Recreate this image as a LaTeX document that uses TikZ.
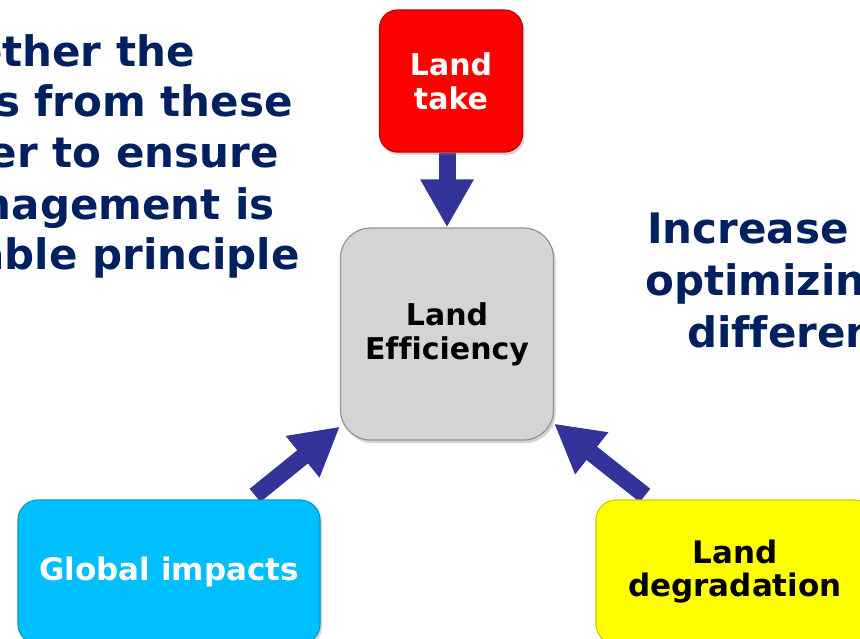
\documentclass[tikz,border=0pt]{standalone}
\usepackage{fontspec}
\setmainfont[Ligatures=NoCommon]{DejaVu Sans}
\usetikzlibrary{arrows.meta,shadows}
\definecolor{navytext}{HTML}{002060}
\definecolor{arrowblue}{HTML}{333399}
\definecolor{takered}{HTML}{FF0000}
\definecolor{effgray}{HTML}{D4D4D4}
\definecolor{globcyan}{HTML}{00BFFF}
\definecolor{degyellow}{HTML}{FFFF00}
\pgfdeclarelayer{background}
\pgfsetlayers{background,main}
\tikzset{
  boxnode/.style={rounded corners=20pt, align=center, inner sep=0pt,
    font=\bfseries\fontsize{30}{34}\selectfont,
    drop shadow={shadow xshift=2pt, shadow yshift=-3pt, opacity=0.35}},
  blockarrow/.style={draw=arrowblue, line width=17pt,
    -{Triangle[length=48pt, width=50pt]}},
  bigtext/.style={font=\bfseries\fontsize{42}{52}\selectfont, text=navytext, inner sep=0pt}
}
\begin{document}
\begin{tikzpicture}[x=1pt,y=-1pt]
\useasboundingbox (0,0) rectangle (860,639);
% boxes
\node[boxnode, fill=takered, draw=takered!75!black, line width=1.2pt, text=white,
  minimum width=143pt, minimum height=142pt, rounded corners=18pt] (take) at (451,81) {Land\\take};
\node[boxnode, fill=effgray, draw=effgray!70!black, line width=1.2pt, text=black,
  minimum width=213pt, minimum height=212pt, rounded corners=30pt] (eff) at (447,334) {Land\\Efficiency};
\node[boxnode, fill=globcyan, draw=globcyan!80!black, line width=1.2pt, text=white,
  minimum width=302pt, minimum height=144pt, font=\bfseries\fontsize{31}{34}\selectfont] (gi) at (169,572) {Global impacts};
\node[boxnode, fill=degyellow, draw=degyellow!80!black, line width=1.2pt, text=black,
  minimum width=278pt, minimum height=144pt, font=\bfseries\fontsize{31}{33}\selectfont] (ld) at (735,572) {Land\\degradation};
% arrows
\begin{pgfonlayer}{background}
\draw[blockarrow] (eff.north |- take.south) -- (eff.north);
\draw[blockarrow] ([xshift=86pt,yshift=4pt]gi.north) -- ([yshift=14pt]eff.south west);
\draw[blockarrow] ([xshift=-90pt,yshift=4pt]ld.north) -- ([yshift=17pt]eff.south east);
\end{pgfonlayer}
% left text
\node[bigtext, anchor=base east] (l1) at (195,67) {ether the};
\node[bigtext, anchor=base east] (l2) at (293,117) {s from these};
\node[bigtext, anchor=base east] (l3) at (279,168) {er to ensure};
\node[bigtext, anchor=base east] (l4) at (275,220) {nagement is};
\node[bigtext, anchor=base east] (l5) at (300,270) {able principle};
% right text
\node[bigtext, anchor=base west] (r1) at (647,244) {Increase};
\node[bigtext, anchor=base west] (r2) at (645,296) {optimizin};
\node[bigtext, anchor=base west] (r3) at (687,347) {differen};
\end{tikzpicture}
\end{document}
